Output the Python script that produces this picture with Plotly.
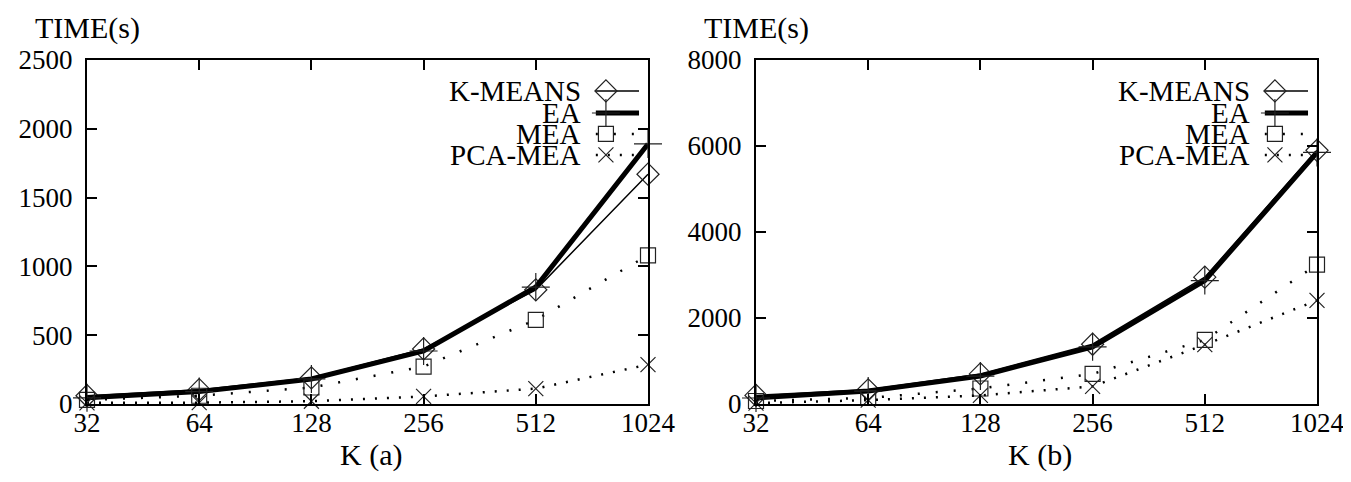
import math
import plotly.graph_objects as go

# ---------------- data ----------------
K = [32, 64, 128, 256, 512, 1024]
k_labels = ["32", "64", "128", "256", "512", "1024"]

# panel (a)
kmeans_a = [60, 104, 190, 400, 830, 1670]
ea_a = [45, 90, 182, 385, 850, 1890]
mea_a = [30, 60, 120, 272, 612, 1080]
pcamea_a = [8, 10, 20, 55, 112, 286]

# panel (b)
kmeans_b = [200, 330, 700, 1390, 2950, 5900]
ea_b = [140, 300, 650, 1330, 2870, 5850]
mea_b = [70, 140, 360, 700, 1490, 3240]
pcamea_b = [20, 90, 200, 410, 1380, 2410]

series_names = ["K-MEANS", "EA", "MEA", "PCA-MEA"]
yticks_a = [0, 500, 1000, 1500, 2000, 2500]
yticks_b = [0, 2000, 4000, 6000, 8000]

# ---------------- style ----------------
FONT = "Liberation Serif"
W, H = 1351, 482
styles = {
    "K-MEANS": dict(line=dict(color="black", width=1.5), symbol="diamond-open", msize=17),
    "EA": dict(line=dict(color="black", width=5), symbol="cross-thin-open", msize=20),
    "MEA": dict(line=dict(color="black", width=2.5, dash="2px,16px"), symbol="square-open", msize=15),
    "PCA-MEA": dict(line=dict(color="black", width=2.5, dash="2px,10px"), symbol="x-thin-open", msize=15),
}

fig = go.Figure()

panels = [
    ("x", "y", [kmeans_a, ea_a, mea_a, pcamea_a]),
    ("x2", "y2", [kmeans_b, ea_b, mea_b, pcamea_b]),
]
for xa, ya, data in panels:
    for name, vals in zip(series_names, data):
        st = styles[name]
        fig.add_trace(go.Scatter(
            x=K, y=vals, xaxis=xa, yaxis=ya, mode="lines+markers", name=name,
            showlegend=False, line=st["line"], cliponaxis=False,
            marker=dict(symbol=st["symbol"], size=st["msize"], color="#222",
                        line=dict(color="#222", width=1.2)),
        ))

ydom = [1 - 396 / H, 1 - 52 / H]
xdom_a = [79 / W, 640 / W]
xdom_b = [748 / W, 1309 / W]
xrange = [math.log10(K[0]) - 1e-6, math.log10(K[-1]) + 1e-6]

common_x = dict(type="log", range=xrange, tickvals=K, ticktext=k_labels,
                ticks="inside", ticklen=10, tickwidth=1.5, tickcolor="black",
                mirror="allticks", showline=True, linewidth=2, linecolor="black",
                showgrid=False, zeroline=False, ticklabelstandoff=-6, automargin=False,
                tickfont=dict(family=FONT, size=27, color="black"))
common_y = dict(ticks="inside", ticklen=10, tickwidth=1.5, tickcolor="black",
                mirror="allticks", showline=True, linewidth=2, linecolor="black",
                showgrid=False, zeroline=False, ticklabelstandoff=7, automargin=False,
                tickfont=dict(family=FONT, size=27, color="black"))

fig.update_layout(
    width=W, height=H, margin=dict(l=0, r=0, t=0, b=0, autoexpand=False),
    paper_bgcolor="white", plot_bgcolor="white", showlegend=False,
    xaxis=dict(domain=xdom_a, anchor="y", **common_x),
    yaxis=dict(domain=ydom, anchor="x", range=[0, 2500], tickvals=yticks_a, **common_y),
    xaxis2=dict(domain=xdom_b, anchor="y2", **common_x),
    yaxis2=dict(domain=ydom, anchor="x2", range=[0, 8000], tickvals=yticks_b, **common_y),
    xaxis3=dict(overlaying="x", anchor="y3", range=[0, 1], visible=False, automargin=False),
    yaxis3=dict(overlaying="y", anchor="x3", range=[0, 1], visible=False, automargin=False),
    xaxis4=dict(overlaying="x2", anchor="y4", range=[0, 1], visible=False, automargin=False),
    yaxis4=dict(overlaying="y2", anchor="x4", range=[0, 1], visible=False, automargin=False),
)

# axis titles
for xdom, lab in [(xdom_a, "K (a)"), (xdom_b, "K (b)")]:
    fig.add_annotation(text=lab, xref="paper", yref="paper", x=(xdom[0] + xdom[1]) / 2 + 3 / W,
                       y=1 - 447 / H, showarrow=False, xanchor="center", yanchor="middle",
                       font=dict(family=FONT, size=30, color="black"))
    fig.add_annotation(text="TIME(s)", xref="paper", yref="paper", x=xdom[0],
                       y=1 - 20 / H, showarrow=False, xanchor="center", yanchor="middle",
                       font=dict(family=FONT, size=30, color="black"))

# key (gnuplot style: text left of sample)
key_rows = [0.910, 0.846, 0.785, 0.724]
text_right = 0.884
line_x0, line_x1, mark_x = 0.907, 0.984, 0.925
for xa, ya, xd, yd in [("x3", "y3", "x domain", "y domain"), ("x4", "y4", "x2 domain", "y2 domain")]:
    for name, ry in zip(series_names, key_rows):
        st = styles[name]
        fig.add_annotation(text=name, xref=xd, yref=yd, x=text_right, y=ry, showarrow=False,
                           xanchor="right", yanchor="middle",
                           font=dict(family=FONT, size=29, color="black"))
        fig.add_trace(go.Scatter(
            x=[line_x0, line_x1], y=[ry, ry], xaxis=xa, yaxis=ya, mode="lines",
            line=st["line"], showlegend=False, hoverinfo="skip"))
        fig.add_trace(go.Scatter(
            x=[mark_x], y=[ry], xaxis=xa, yaxis=ya, mode="markers", showlegend=False,
            hoverinfo="skip",
            marker=dict(symbol=st["symbol"], size=st["msize"], color="#222",
                        line=dict(color="#222", width=1.2))))

fig.write_html("out.html")
